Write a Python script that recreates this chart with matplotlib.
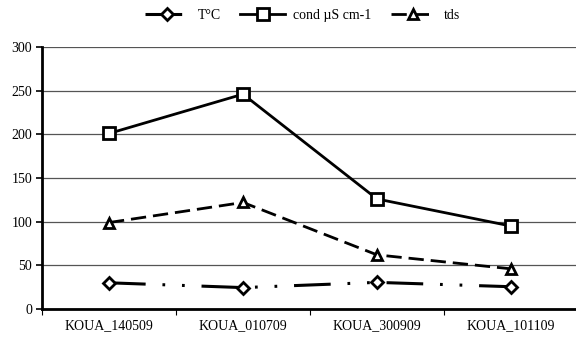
import matplotlib.pyplot as plt
import numpy as np

# sampling stations and measured parameters
stations = ["KOUA_140509", "KOUA_010709", "KOUA_300909", "KOUA_101109"]
temp_c = [30, 24.5, 30.5, 25.5]
cond = [201, 246, 126, 95]
tds = [99, 122, 62, 46]

plt.rcParams["font.family"] = ["Liberation Serif", "DejaVu Serif"]

fig = plt.figure(figsize=(5.76, 3.41), dpi=100)
ax = fig.add_axes([42 / 576, 1 - 309 / 341, 536 / 576, 262 / 341])

x = np.arange(len(stations))

ax.plot(x, temp_c, color="black", lw=2.2, dashes=(12, 5.5, 0.9, 5.5, 0.9, 5.5),
        marker="D", markersize=6, markerfacecolor="white",
        markeredgecolor="black", markeredgewidth=2, label="T°C")
ax.plot(x, cond, color="black", lw=2.0, marker="s", markersize=8,
        markerfacecolor="white", markeredgecolor="black",
        markeredgewidth=2, label="cond µS cm-1")
ax.plot(x, tds, color="black", lw=2.0, dashes=(5.5, 2.5), marker="^",
        markersize=6.5, markerfacecolor="white", markeredgecolor="black",
        markeredgewidth=2, label="tds")

ax.set_xlim(-0.5, len(stations) - 0.5)
ax.set_ylim(0, 300)
ax.set_yticks(range(0, 301, 50))
ax.set_xticks(x)
ax.set_xticklabels(stations)
ax.set_xticks(np.arange(-0.5, len(stations)), minor=True)
ax.tick_params(axis="x", which="major", length=0, labelsize=10, pad=7)
ax.tick_params(axis="x", which="minor", length=4, width=0.8)
ax.tick_params(axis="y", length=4, width=1.2, labelsize=10, pad=3)

ax.grid(axis="y", color="#555555", lw=0.9)
ax.set_axisbelow(True)
for side in ("top", "right"):
    ax.spines[side].set_visible(False)
for side in ("left", "bottom"):
    ax.spines[side].set_linewidth(2)

fig.legend(loc="upper center", bbox_to_anchor=(0.525, 1.01), ncol=3,
           frameon=False, fontsize=10, handlelength=3.2,
           columnspacing=1.4, handletextpad=0.6)

fig.savefig("out.png", dpi=100)
